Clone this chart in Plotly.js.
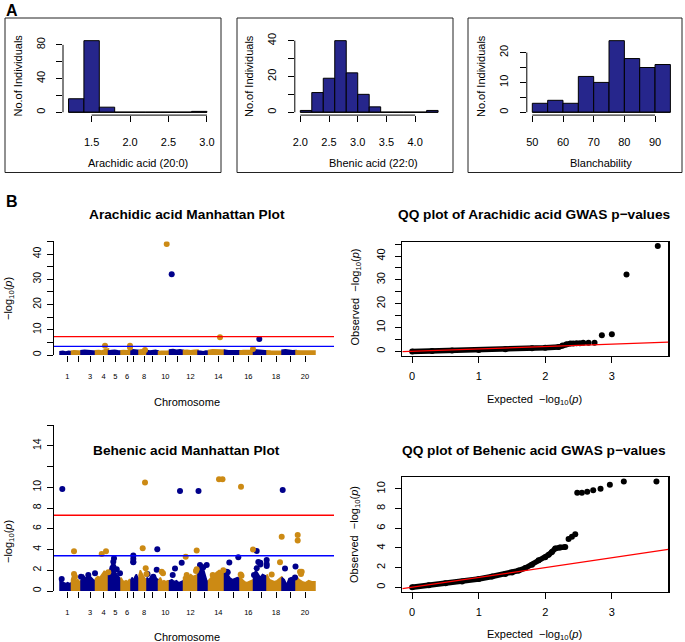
<!DOCTYPE html>
<html>
<head>
<meta charset="utf-8">
<script src="https://cdn.plot.ly/plotly-3.0.1.min.js"></script>
<style>
body { margin: 0; background: #fff; }
#chart { width: 685px; height: 642px; }
</style>
</head>
<body>
<div id="chart"></div>
<script>
// ---------- panel A: histograms ----------
var arachBins = [1.2, 1.4, 1.6, 1.8, 2.0, 2.2, 2.4, 2.6, 2.8]
var arachCounts = [16, 85, 6, 0, 0, 0, 0, 0, 1]
var arachXTicks = [1.5, 2.0, 2.5, 3.0]
var arachXLabels = ['1.5', '2.0', '2.5', '3.0']
var arachYTicks = [0, 20, 40, 60, 80]
var arachYLabels = ['0', '', '40', '', '80']

var behenBins = [2.0, 2.2, 2.4, 2.6, 2.8, 3.0, 3.2, 3.4, 3.6, 3.8, 4.0, 4.2]
var behenCounts = [1, 11, 19, 40, 22, 10, 3, 0, 0, 0, 0, 1]
var behenXTicks = [2.0, 2.5, 3.0, 3.5, 4.0]
var behenXLabels = ['2.0', '2.5', '3.0', '3.5', '4.0']
var behenYTicks = [0, 10, 20, 30, 40]
var behenYLabels = ['0', '', '20', '', '40']

var blanchBins = [50, 55, 60, 65, 70, 75, 80, 85, 90]
var blanchCounts = [3, 4, 3, 12, 10, 24, 18, 15, 16]
var blanchXTicks = [50, 60, 70, 80, 90]
var blanchXLabels = ['50', '60', '70', '80', '90']
var blanchYTicks = [0, 5, 10, 15, 20]
var blanchYLabels = ['0', '', '10', '', '20']

// ---------- panel B: Manhattan plots (positions in Mb) ----------
var chrEdges = [0, 115, 210, 355, 485, 610, 710, 790, 870, 985, 1095, 1235, 1380, 1485, 1645, 1800, 1935, 2070, 2220, 2360, 2550]
var chrTicks = [73, 180, 300, 437, 553, 670, 733, 840, 923, 1053, 1177, 1305, 1440, 1583, 1733, 1883, 2017, 2160, 2300, 2450]
var chrLabels = ['1', '', '3', '4', '5', '6', '', '8', '', '10', '', '12', '', '14', '', '16', '', '18', '', '20']

// dense lower part of each chromosome (-log10 p envelope)
var arachBase = [
  [1.3, 1.5, 1.2, 1.5, 1.3], [1.5, 1.7, 1.8, 1.6, 1.5], [1.7, 1.9, 1.8, 1.6, 1.5], [1.7, 1.8, 1.6, 2.2, 2.4],
  [1.6, 1.8, 1.9, 1.7, 1.6], [1.7, 1.8, 1.6, 1.7, 1.8], [1.9, 2.1, 2.0, 1.9, 1.8], [1.8, 2.1, 1.9, 1.8, 1.7],
  [1.8, 1.6, 1.7, 1.9, 1.6], [1.3, 1.5, 1.4, 1.5, 1.6], [2.0, 2.2, 1.9, 2.1, 1.8], [1.8, 1.9, 1.7, 1.9, 2.0],
  [1.6, 1.5, 1.3, 1.6, 1.5], [1.8, 2.1, 2.2, 2.0, 1.9], [1.9, 1.7, 1.8, 1.6, 1.7], [1.6, 1.8, 1.7, 1.6, 1.8],
  [2.1, 2.0, 1.8, 1.7, 1.6], [1.7, 1.6, 1.5, 1.6, 1.5], [1.9, 2.1, 1.8, 1.7, 1.8], [1.7, 1.6, 1.5, 1.7, 1.6]
]
var arachGoldX = [1067, 1600, 450, 700, 700, 850, 1930]
var arachGoldY = [44.0, 7.0, 3.7, 3.7, 3.0, 2.0, 2.4]
var arachNavyX = [1117, 1993]
var arachNavyY = [32.0, 6.3]

var behenBase = [
  [1.2, 0.9, 0.8, 0.7, 0.8, 0.7, 0.8], [1.1, 1.6, 1.3, 1.0, 1.1, 0.9, 1.0], [1.0, 1.5, 1.2, 1.6, 1.3, 1.1, 1.0],
  [1.2, 1.4, 1.3, 1.6, 1.9, 1.8, 1.6], [1.6, 2.4, 2.2, 1.9, 1.6, 1.3, 1.1], [1.3, 1.0, 0.9, 1.0, 0.9, 1.1, 1.0],
  [1.1, 1.3, 1.0, 1.4, 1.6, 1.3, 1.2], [1.5, 2.0, 1.7, 1.5, 1.3, 1.1, 1.2], [1.3, 1.1, 1.4, 1.3, 1.5, 1.2, 1.1],
  [1.0, 1.3, 0.9, 1.0, 0.9, 1.0, 1.0], [1.0, 1.1, 0.9, 1.0, 0.8, 0.9, 1.0], [1.3, 1.6, 1.4, 1.6, 1.4, 1.5, 1.6],
  [2.0, 2.4, 2.3, 2.2, 1.6, 1.0, 0.9], [1.0, 1.3, 1.6, 1.8, 2.0, 1.9, 1.6], [1.9, 1.7, 1.3, 1.1, 1.2, 1.3, 1.2],
  [1.3, 1.1, 0.9, 0.8, 0.9, 1.0, 1.1], [1.5, 2.0, 1.6, 1.3, 1.6, 1.5, 1.4], [1.6, 1.1, 1.0, 0.9, 1.0, 1.2, 1.4],
  [1.3, 1.1, 0.6, 1.2, 1.3, 1.1, 1.0], [1.5, 1.1, 0.9, 0.8, 1.0, 0.9, 0.9]
]
var behenNavyX = [23, 17, 1200, 1385, 2227, 973, 1967, 733, 733, 733, 540, 1783, 2067, 2067, 2067, 1217, 1693, 2003, 2003, 600,
  567, 2355, 2250, 967, 1150, 1127, 1400, 1433, 1467, 283, 210, 350, 1677, 533, 533, 733, 933, 875, 1667, 1983, 1967, 1940, 2350]
var behenNavyY = [9.84, 1.16, 9.65, 9.65, 9.74, 4.02, 3.86, 3.41, 3.1, 2.83, 3.15, 3.25, 3.0, 2.6, 2.4, 2.73, 2.75, 2.73, 2.55, 1.7,
  2.1, 2.35, 2.17, 2.05, 2.17, 1.55, 2.5, 2.3, 2.5, 1.55, 1.38, 1.7, 1.8, 2.83, 2.35, 2.77, 1.38, 1.64, 1.86, 2.8, 2.19, 1.54, 1.3]
var behenGoldX = [850, 1590, 1625, 1810, 827, 140, 417, 460, 1367, 1257, 1930, 2217, 2377, 2377, 2200, 857, 1017, 1030, 1360, 1533,
  1807, 1815, 2400, 2410, 140, 150, 483, 2117, 865, 1267, 1367, 1527, 1633, 2417]
var behenGoldY = [10.45, 10.77, 10.77, 10.06, 4.12, 3.83, 3.57, 3.83, 3.9, 3.3, 4.0, 5.24, 5.4, 4.86, 2.76, 2.19, 1.86, 1.7, 1.93, 1.48,
  1.6, 1.48, 1.86, 1.64, 1.64, 1.38, 1.8, 1.6, 1.64, 1.54, 2.1, 1.54, 2.0, 1.86]

var genomeWideLine = 7.3
var suggestiveLine = 3.4

// ---------- panel B: QQ plots ----------
var qqArachBandX = [0, 0.3, 0.6, 1.0, 1.4, 1.8, 2.0, 2.2, 2.26, 2.32, 2.38]
var qqArachBandY = [-0.05, 0.1, 0.3, 0.55, 0.9, 1.25, 1.5, 1.8, 2.4, 3.0, 3.3]
var qqArachPtX = [2.42, 2.47, 2.52, 2.57, 2.65, 2.74, 2.85, 3.0, 3.22, 3.69]
var qqArachPtY = [3.3, 3.4, 3.4, 3.6, 3.6, 3.6, 6.7, 7.2, 32.2, 44.2]

var qqBehenBandX = [0, 0.25, 0.5, 0.75, 1.0, 1.2, 1.4, 1.5, 1.6, 1.7, 1.8, 1.9, 2.0, 2.05, 2.1, 2.15, 2.22, 2.3]
var qqBehenBandY = [0.0, 0.2, 0.4, 0.6, 0.85, 1.1, 1.35, 1.5, 1.7, 1.95, 2.3, 2.75, 3.05, 3.3, 3.6, 3.95, 4.05, 4.1]
var qqBehenPtX = [2.35, 2.40, 2.45, 2.48, 2.55, 2.63, 2.72, 2.83, 2.97, 3.18, 3.67]
var qqBehenPtY = [4.9, 5.15, 5.4, 9.63, 9.63, 9.73, 9.86, 10.03, 10.44, 10.75, 10.75]

// ---------- styling ----------
var W = 685, H = 642
var FONT = 'Liberation Sans, Arial, Helvetica, sans-serif'
var HIST_FILL = '#26268C'
var NAVY = '#00008B'
var GOLD = '#CC8A14'

function dx(a, b) { return [a / W, b / W] }
function dy(a, b) { return [1 - b / H, 1 - a / H] }
function rpad(lo, hi) { var d = (hi - lo) * 0.04; return [lo - d, hi + d] }

// labelled ticks are major ticks, the others (R dropped their labels) are minor ones
function tickSet(vals, labels) {
  var tv = [], tt = [], mv = []
  vals.forEach(function (v, i) {
    if (labels[i] === '') mv.push(v)
    else { tv.push(v); tt.push(labels[i]) }
  })
  return {tickmode: 'array', tickvals: tv, ticktext: tt,
    minor: {tickmode: 'array', tickvals: mv, ticks: 'outside', ticklen: 6, tickwidth: 1, tickcolor: '#000', showgrid: false}}
}

function axis(extra) {
  return Object.assign({
    showgrid: false, zeroline: false, showline: false,
    ticks: 'outside', ticklen: 6, tickwidth: 1, tickcolor: '#000',
    tickfont: {family: FONT, size: 11, color: '#000'},
    fixedrange: true
  }, extra)
}

var traces = []
var shapes = []
var annotations = []

function ann(text, x, y, size, opts) {
  annotations.push(Object.assign({
    text: text, x: x / W, y: 1 - y / H, xref: 'paper', yref: 'paper',
    showarrow: false, xanchor: 'center', yanchor: 'middle',
    font: {family: FONT, size: size, color: '#000'}
  }, opts || {}))
}

// histograms
var hists = [
  {bins: arachBins, counts: arachCounts, w: 0.2, xt: arachXTicks, xl: arachXLabels, yt: arachYTicks, yl: arachYLabels,
   px: [63, 212.5], frame: [5, 221], label: 'Arachidic acid (20:0)', lx: 138, ty: 17.5},
  {bins: behenBins, counts: behenCounts, w: 0.2, xt: behenXTicks, xl: behenXLabels, yt: behenYTicks, yl: behenYLabels,
   px: [294.8, 443.6], frame: [237, 453], label: 'Bhenic acid (22:0)', lx: 374, ty: 249},
  {bins: blanchBins, counts: blanchCounts, w: 5, xt: blanchXTicks, xl: blanchXLabels, yt: blanchYTicks, yl: blanchYLabels,
   px: [526.8, 675.9], frame: [468, 682], label: 'Blanchability', lx: 601, ty: 481}
]

var layout = {
  width: W, height: H,
  margin: {l: 0, r: 0, t: 0, b: 0},
  paper_bgcolor: '#fff', plot_bgcolor: 'rgba(0,0,0,0)',
  showlegend: false, bargap: 0,
  font: {family: FONT, color: '#000'}
}

hists.forEach(function (h, i) {
  var n = i + 1
  var xa = n === 1 ? 'x' : 'x' + n
  var ya = n === 1 ? 'y' : 'y' + n
  var last = h.bins[h.bins.length - 1] + h.w
  traces.push({type: 'scatter', mode: 'lines', x: [h.bins[0], last], y: [0, 0],
    line: {color: '#000', width: 1}, xaxis: xa, yaxis: ya, hoverinfo: 'skip'})
  traces.push({type: 'bar', x: h.bins, y: h.counts, offset: 0, width: h.w,
    marker: {color: HIST_FILL, line: {color: '#000', width: 1}}, xaxis: xa, yaxis: ya, hoverinfo: 'skip'})
  layout['xaxis' + (n === 1 ? '' : n)] = axis({domain: dx(h.px[0], h.px[1]), range: rpad(h.bins[0], last),
    anchor: ya, tickvals: h.xt, ticktext: h.xl, ticklabelstandoff: 11})
  layout['yaxis' + (n === 1 ? '' : n)] = axis(Object.assign({domain: dy(37.8, 115.1),
    range: rpad(0, Math.max.apply(null, h.counts)), anchor: xa, tickangle: -90, ticklabelstandoff: 7},
    tickSet(h.yt, h.yl)))
  // R style axis lines (first to last tick)
  shapes.push({type: 'line', xref: xa, yref: ya + ' domain', x0: h.xt[0], x1: h.xt[h.xt.length - 1], y0: 0, y1: 0,
    line: {color: '#000', width: 1}})
  shapes.push({type: 'line', xref: xa + ' domain', yref: ya, x0: 0, x1: 0, y0: h.yt[0], y1: h.yt[h.yt.length - 1],
    line: {color: '#000', width: 1}})
  // figure frame
  shapes.push({type: 'rect', xref: 'paper', yref: 'paper', x0: h.frame[0] / W, x1: h.frame[1] / W,
    y0: 1 - 172.5 / H, y1: 1 - 18 / H, line: {color: '#222', width: 1}})
  ann(h.label, h.lx, 163, 11)
  ann('No.of Individuals', h.ty, 76, 11, {textangle: -90})
})

// Manhattan plots
function manhattan(n, base, navyX, navyY, goldX, goldY, yTicks, yLabels, yMax, top, bottom) {
  var xa = 'x' + n, ya = 'y' + n
  base.forEach(function (hts, c) {
    var a = chrEdges[c], b = chrEdges[c + 1]
    var xs = [a], ys = [0]
    hts.forEach(function (v, j) { xs.push(a + (b - a) * j / (hts.length - 1)); ys.push(v) })
    xs.push(b); ys.push(0)
    var col = c % 2 === 0 ? NAVY : GOLD
    traces.push({type: 'scatter', mode: 'lines', x: xs, y: ys, fill: 'toself', fillcolor: col,
      line: {color: col, width: 1.5}, xaxis: xa, yaxis: ya, hoverinfo: 'skip'})
  })
  traces.push({type: 'scatter', mode: 'markers', x: navyX, y: navyY, marker: {color: NAVY, size: 6},
    xaxis: xa, yaxis: ya, hoverinfo: 'skip'})
  traces.push({type: 'scatter', mode: 'markers', x: goldX, y: goldY, marker: {color: GOLD, size: 6},
    xaxis: xa, yaxis: ya, hoverinfo: 'skip'})
  var xs = tickSet(chrTicks, chrLabels)
  layout['xaxis' + n] = axis(Object.assign({domain: dx(54, 334), range: [-60, 2740], anchor: ya,
    tickfont: {family: FONT, size: 7.5, color: '#000'}, ticklabelstandoff: 8}, xs))
  layout['yaxis' + n] = axis(Object.assign({domain: dy(top, bottom), range: [0, yMax], anchor: xa, showline: true,
    linecolor: '#000', linewidth: 1, tickangle: -90, tickfont: {family: FONT, size: 10.5, color: '#000'},
    ticklabelstandoff: 2}, tickSet(yTicks, yLabels)))
  shapes.push({type: 'line', xref: xa + ' domain', yref: ya, x0: 0, x1: 1, y0: genomeWideLine, y1: genomeWideLine,
    line: {color: '#FF0000', width: 1.3}})
  shapes.push({type: 'line', xref: xa + ' domain', yref: ya, x0: 0, x1: 1, y0: suggestiveLine, y1: suggestiveLine,
    line: {color: '#0000FF', width: 1.3}})
}

manhattan(4, arachBase, arachNavyX, arachNavyY, arachGoldX, arachGoldY,
  [0, 5, 10, 15, 20, 25, 30, 35, 40, 45], ['0', '', '10', '', '20', '', '30', '', '40', ''], 45, 241.4, 355)
manhattan(5, behenBase, behenNavyX, behenNavyY, behenGoldX, behenGoldY,
  [0, 2, 4, 6, 8, 10, 12, 14, 16], ['0', '2', '4', '6', '8', '10', '', '14', ''], 16, 425, 591)

// QQ plots
function qq(n, bandX, bandY, ptX, ptY, yRange, yTicks, yLabels, top, bottom) {
  var xa = 'x' + n, ya = 'y' + n
  var xr = rpad(0, 3.7)
  traces.push({type: 'scatter', mode: 'lines+markers', x: bandX, y: bandY,
    line: {color: '#000', width: 5.5}, marker: {color: '#000', size: 6}, xaxis: xa, yaxis: ya, hoverinfo: 'skip'})
  traces.push({type: 'scatter', mode: 'markers', x: ptX, y: ptY, marker: {color: '#000', size: 6},
    xaxis: xa, yaxis: ya, hoverinfo: 'skip'})
  layout['xaxis' + n] = axis({domain: dx(402.3, 668.3), range: xr, anchor: ya, showline: true, mirror: true,
    linecolor: '#000', linewidth: 1.2, tickvals: [0, 1, 2, 3], ticktext: ['0', '1', '2', '3'], ticklabelstandoff: 4})
  layout['yaxis' + n] = axis(Object.assign({domain: dy(top, bottom), range: yRange, anchor: xa, showline: true,
    mirror: true, linecolor: '#000', linewidth: 1.2, tickangle: -90, ticklabelstandoff: 6}, tickSet(yTicks, yLabels)))
  // y = x reference
  shapes.push({type: 'line', xref: xa, yref: ya, x0: xr[0], x1: xr[1], y0: xr[0], y1: xr[1],
    line: {color: '#FF0000', width: 1.3}})
}

qq(6, qqArachBandX, qqArachBandY, qqArachPtX, qqArachPtY, [-1.76, 45.76],
  [0, 5, 10, 15, 20, 25, 30, 35, 40, 45], ['0', '', '10', '', '20', '', '30', '', '40', ''], 242.3, 355.5)
qq(7, qqBehenBandX, qqBehenBandY, qqBehenPtX, qqBehenPtY, [-0.43, 11.23],
  [0, 2, 4, 6, 8, 10], ['0', '2', '4', '6', '8', '10'], 476.9, 591.5)

// titles and labels
ann('<b>A</b>', 12.5, 10, 16)
ann('<b>B</b>', 12.5, 201, 16)
ann('<b>Arachidic acid Manhattan Plot</b>', 187, 214.3, 13.7)
ann('<b>QQ plot of Arachidic acid GWAS p\u2212values</b>', 534, 214.3, 13.7)
ann('<b>Behenic acid Manhattan Plot</b>', 187, 450.7, 13.7)
ann('<b>QQ plot of Behenic acid GWAS p\u2212values</b>', 534, 450.7, 13.7)
ann('Chromosome', 187, 401.7, 11)
ann('Chromosome', 187, 637, 11)
ann('Expected \u00a0\u2212log<sub>10</sub>(<i>p</i>)', 534, 400, 11)
ann('Expected \u00a0\u2212log<sub>10</sub>(<i>p</i>)', 534, 635, 11)
ann('\u2212log<sub>10</sub>(<i>p</i>)', 9, 299, 11, {textangle: -90})
ann('\u2212log<sub>10</sub>(<i>p</i>)', 9, 542, 11, {textangle: -90})
ann('Observed \u00a0\u2212log<sub>10</sub>(<i>p</i>)', 355, 297.5, 11, {textangle: -90})
ann('Observed \u00a0\u2212log<sub>10</sub>(<i>p</i>)', 355, 535, 11, {textangle: -90})

layout.shapes = shapes
layout.annotations = annotations

Plotly.newPlot('chart', traces, layout, {staticPlot: true, displayModeBar: false})
</script>
</body>
</html>
